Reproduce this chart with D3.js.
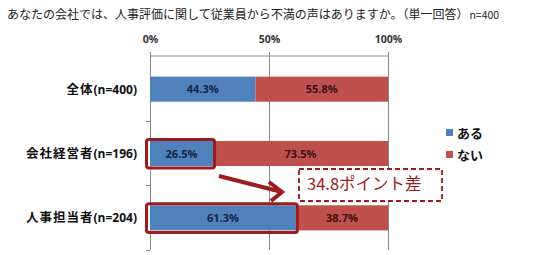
<!DOCTYPE html>
<html>
<head>
<meta charset="utf-8">
<script src="https://cdn.jsdelivr.net/npm/d3@7"></script>
<style>
  html, body { margin: 0; padding: 0; background: #fff; }
  svg { display: block; }
</style>
</head>
<body>
<svg id="chart" width="542" height="255"></svg>
<script>
// Survey: complaints from employees about personnel evaluation
const title = "あなたの会社では、人事評価に関して従業員から不満の声はありますか。（単一回答）";
const titleN = "n=400";
const categories = ["全体", "会社経営者", "人事担当者"];
const sampleSizes = [400, 196, 204];
const aru = [44.3, 26.5, 61.3];   // ある
const nai = [55.8, 73.5, 38.7];   // ない
const seriesNames = ["ある", "ない"];
const tickValues = [0, 50, 100];
const highlighted = [1, 2];        // rows compared in the callout

const colors = { aru: "#4f81bd", nai: "#c0504d", aruText: "#17243f", naiText: "#3c1212",
                 accent: "#9e1b1d", axis: "#8a8a8a" };
const jp = "'Noto Sans CJK JP', 'Noto Sans', sans-serif";

const svg = d3.select("#chart");

const x = d3.scaleLinear().domain([0, 100]).range([150, 388]);
const y = d3.scaleBand().domain(categories).range([57, 250]).paddingInner(0.61).paddingOuter(0.305);

// Title
const t = svg.append("text").attr("x", 7).attr("y", 19)
  .attr("font-family", jp).attr("font-size", 12).attr("fill", "#222");
t.append("tspan").text(title);
t.append("tspan").attr("font-size", 10.5).attr("dx", 1).text(titleN);

// Gridlines
svg.append("g").selectAll("line").data(tickValues.slice(1)).join("line")
  .attr("x1", d => x(d)).attr("x2", d => x(d))
  .attr("y1", 56).attr("y2", 250)
  .attr("stroke", colors.axis).attr("stroke-width", 1).attr("shape-rendering", "crispEdges");

// Top value axis
const xAxis = svg.append("g").attr("transform", "translate(0,56)")
  .call(d3.axisTop(x).tickValues(tickValues).tickSize(4).tickPadding(9).tickFormat(d => d + "%"));
xAxis.select(".domain").attr("stroke", colors.axis).attr("d", `M${x(0)},0H${x(100)}`);
xAxis.selectAll(".tick line").attr("stroke", colors.axis);
xAxis.selectAll(".tick text").attr("font-family", "'Open Sans', 'Liberation Sans', sans-serif")
  .attr("font-weight", "bold").attr("font-size", 10.5).attr("fill", "#333");

// Left category axis
const yAxis = svg.append("g").attr("transform", `translate(${x(0)},0)`);
yAxis.append("line").attr("x1", 0).attr("x2", 0).attr("y1", 56).attr("y2", 250)
  .attr("stroke", colors.axis).attr("shape-rendering", "crispEdges");
const bounds = categories.map(c => y(c) - y.step() * y.paddingInner() / 2).concat([250]);
yAxis.selectAll("line.tk").data(bounds.slice(1)).join("line").attr("class", "tk")
  .attr("x1", -4).attr("x2", 0).attr("y1", d => d).attr("y2", d => d)
  .attr("stroke", colors.axis).attr("shape-rendering", "crispEdges");

// Category labels
const catLabels = svg.append("g").selectAll("text").data(categories).join("text")
  .attr("x", 137).attr("y", d => y(d) + y.bandwidth() / 2 + 4.5)
  .attr("text-anchor", "end").attr("font-family", jp).attr("font-weight", "bold")
  .attr("font-size", 12.5).attr("fill", "#111");
catLabels.append("tspan").attr("letter-spacing", 1).text(d => d);
catLabels.append("tspan").attr("font-family", "'Open Sans', 'Liberation Sans', sans-serif")
  .attr("font-size", 12).text((d, i) => `(n=${sampleSizes[i]})`);

// Stacked bars
const rows = categories.map((c, i) => ({ c, aru: aru[i], nai: nai[i] }));
const bars = svg.append("g");
bars.selectAll("rect.aru").data(rows).join("rect").attr("class", "aru")
  .attr("x", x(0)).attr("y", d => y(d.c))
  .attr("width", d => x(d.aru) - x(0)).attr("height", y.bandwidth())
  .attr("fill", colors.aru);
bars.selectAll("rect.nai").data(rows).join("rect").attr("class", "nai")
  .attr("x", d => x(d.aru)).attr("y", d => y(d.c))
  .attr("width", d => x(Math.min(100, d.aru + d.nai)) - x(d.aru)).attr("height", y.bandwidth())
  .attr("fill", colors.nai);

const lblFont = "'Open Sans', 'Liberation Sans', sans-serif";
bars.selectAll("text.aru").data(rows).join("text").attr("class", "aru")
  .attr("x", d => (x(0) + x(d.aru)) / 2).attr("y", d => y(d.c) + y.bandwidth() / 2 + 4)
  .attr("text-anchor", "middle").attr("font-family", lblFont).attr("font-weight", "bold")
  .attr("font-size", 11).attr("fill", colors.aruText).text(d => d.aru.toFixed(1) + "%");
bars.selectAll("text.nai").data(rows).join("text").attr("class", "nai")
  .attr("x", d => (x(d.aru) + x(Math.min(100, d.aru + d.nai))) / 2).attr("y", d => y(d.c) + y.bandwidth() / 2 + 4)
  .attr("text-anchor", "middle").attr("font-family", lblFont).attr("font-weight", "bold")
  .attr("font-size", 11).attr("fill", colors.naiText).text(d => d.nai.toFixed(1) + "%");

// Highlight boxes around the compared "ある" segments
svg.append("g").selectAll("rect").data(highlighted.map(i => rows[i])).join("rect")
  .attr("x", x(0) - 3.5).attr("y", d => y(d.c) - 1.5)
  .attr("width", d => x(d.aru) - x(0) + 5).attr("height", y.bandwidth() + 3.5)
  .attr("rx", 2.5).attr("fill", "none").attr("stroke", colors.accent).attr("stroke-width", 3);

// Callout: difference between the two highlighted rows
const diff = (rows[highlighted[1]].aru - rows[highlighted[0]].aru).toFixed(1);
svg.append("rect").attr("x", 299).attr("y", 169).attr("width", 143).attr("height", 32)
  .attr("fill", "#fff").attr("stroke", colors.accent).attr("stroke-width", 1.8)
  .attr("stroke-dasharray", "5,3");
svg.append("text").attr("x", 307).attr("y", 190)
  .attr("font-family", jp).attr("font-size", 16.5).attr("fill", colors.accent)
  .text(`${diff}ポイント差`);

// Arrow from the management row toward the callout
const ax0 = 219, ay0 = 176, ax1 = 282, ay1 = 192;
svg.append("line").attr("x1", ax0).attr("y1", ay0).attr("x2", ax1 - 2).attr("y2", ay1 - 0.5)
  .attr("stroke", colors.accent).attr("stroke-width", 4);
svg.append("path").attr("d", `M269,182L${ax1},${ay1}L271,201`)
  .attr("fill", "none").attr("stroke", colors.accent).attr("stroke-width", 4)
  .attr("stroke-linejoin", "miter");

// Legend
const legend = svg.append("g").selectAll("g").data(seriesNames).join("g")
  .attr("transform", (d, i) => `translate(446,${129 + i * 22})`);
legend.append("rect").attr("width", 7).attr("height", 7)
  .attr("fill", (d, i) => i === 0 ? colors.aru : colors.nai);
legend.append("text").attr("x", 11).attr("y", 8.5)
  .attr("font-family", jp).attr("font-weight", "bold").attr("font-size", 13).attr("fill", "#111")
  .text(d => d);
</script>
</body>
</html>
